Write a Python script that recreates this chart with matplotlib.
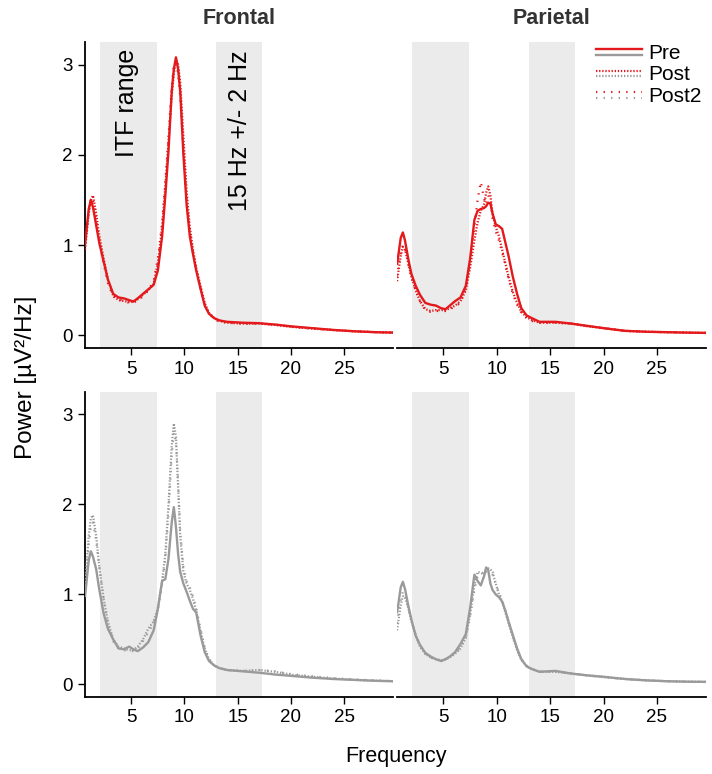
import matplotlib
matplotlib.use("Agg")
import matplotlib.pyplot as plt
from matplotlib.lines import Line2D
from matplotlib.legend_handler import HandlerBase

plt.rcParams['font.family'] = ['Liberation Sans', 'DejaVu Sans']

# ---------------- data ----------------
freq = [0.65, 1.0, 1.2, 1.4, 1.7, 2.0, 2.4, 2.8, 3.3, 3.8, 4.3, 4.8, 5.2, 5.6, 6.1, 6.6,
        7.1, 7.5, 7.9, 8.2, 8.5, 8.8, 9.0, 9.2, 9.4, 9.6, 9.9, 10.2, 10.5, 10.8, 11.1,
        11.5, 11.9, 12.3, 12.8, 13.3, 14, 15.5, 17, 18.5, 20, 22, 24, 26, 28, 29.8]

frontal_pre = [1.00, 1.40, 1.50, 1.42, 1.22, 1.02, 0.82, 0.62, 0.46, 0.42, 0.41, 0.39, 0.375, 0.41, 0.46, 0.51,
               0.56, 0.72, 1.10, 1.55, 2.05, 2.70, 2.95, 3.08, 2.95, 2.70, 2.00, 1.45, 1.10, 0.90, 0.72,
               0.52, 0.33, 0.24, 0.19, 0.165, 0.15, 0.14, 0.135, 0.12, 0.10, 0.08, 0.06, 0.045, 0.035, 0.03]
frontal_post = [0.95, 1.35, 1.50, 1.55, 1.35, 1.10, 0.85, 0.62, 0.44, 0.39, 0.38, 0.37, 0.37, 0.40, 0.45, 0.50,
                0.57, 0.80, 1.20, 1.65, 2.15, 2.65, 2.90, 3.05, 3.00, 2.80, 2.20, 1.60, 1.20, 0.95, 0.75,
                0.55, 0.36, 0.25, 0.19, 0.16, 0.14, 0.13, 0.13, 0.115, 0.095, 0.075, 0.058, 0.045, 0.035, 0.03]
frontal_post2 = [0.98, 1.38, 1.52, 1.50, 1.28, 1.05, 0.80, 0.58, 0.43, 0.40, 0.38, 0.36, 0.36, 0.39, 0.43, 0.50,
                 0.60, 0.85, 1.25, 1.70, 2.20, 2.75, 3.00, 3.02, 2.90, 2.65, 2.05, 1.50, 1.15, 0.92, 0.73,
                 0.53, 0.34, 0.24, 0.18, 0.15, 0.14, 0.13, 0.13, 0.12, 0.095, 0.075, 0.06, 0.045, 0.035, 0.03]

parietal_pre = [0.78, 1.08, 1.14, 1.05, 0.85, 0.68, 0.55, 0.45, 0.36, 0.34, 0.33, 0.30, 0.29, 0.33, 0.38, 0.42,
                0.55, 0.85, 1.28, 1.38, 1.40, 1.41, 1.43, 1.47, 1.46, 1.35, 1.23, 1.21, 1.18, 1.03, 0.88,
                0.65, 0.46, 0.30, 0.22, 0.19, 0.15, 0.15, 0.13, 0.105, 0.08, 0.05, 0.04, 0.035, 0.03, 0.027]
parietal_post = [0.60, 0.88, 0.98, 0.95, 0.80, 0.65, 0.50, 0.38, 0.29, 0.27, 0.28, 0.28, 0.28, 0.30, 0.33, 0.38,
                 0.50, 0.75, 1.05, 1.25, 1.38, 1.45, 1.58, 1.65, 1.55, 1.35, 1.20, 1.10, 0.95, 0.80, 0.65,
                 0.48, 0.36, 0.26, 0.20, 0.17, 0.14, 0.14, 0.13, 0.10, 0.08, 0.05, 0.04, 0.035, 0.03, 0.027]
parietal_post2 = [0.65, 0.92, 1.00, 0.96, 0.80, 0.64, 0.50, 0.38, 0.28, 0.26, 0.27, 0.27, 0.27, 0.29, 0.32, 0.36,
                  0.52, 0.82, 1.20, 1.50, 1.70, 1.52, 1.45, 1.55, 1.50, 1.30, 1.15, 1.05, 0.92, 0.78, 0.63,
                  0.46, 0.34, 0.25, 0.19, 0.16, 0.14, 0.14, 0.13, 0.10, 0.08, 0.05, 0.04, 0.035, 0.03, 0.027]

frontal_pre_b = [0.97, 1.38, 1.48, 1.42, 1.28, 1.05, 0.79, 0.62, 0.50, 0.40, 0.39, 0.42, 0.39, 0.37, 0.41, 0.47,
                 0.60, 0.84, 1.15, 1.17, 1.40, 1.80, 1.97, 1.75, 1.45, 1.25, 1.12, 1.03, 0.93, 0.84, 0.80,
                 0.55, 0.36, 0.26, 0.21, 0.18, 0.16, 0.145, 0.13, 0.11, 0.095, 0.075, 0.06, 0.05, 0.04, 0.035]
frontal_post_b = [1.10, 1.65, 1.85, 1.88, 1.65, 1.30, 0.95, 0.70, 0.50, 0.42, 0.40, 0.38, 0.38, 0.42, 0.50, 0.62,
                  0.70, 0.85, 1.15, 1.45, 2.00, 2.65, 2.90, 2.75, 2.20, 1.65, 1.25, 1.12, 1.05, 0.95, 0.82,
                  0.60, 0.40, 0.28, 0.21, 0.18, 0.16, 0.15, 0.16, 0.14, 0.11, 0.085, 0.065, 0.05, 0.04, 0.035]
frontal_post2_b = [1.05, 1.55, 1.75, 1.80, 1.60, 1.30, 0.95, 0.68, 0.48, 0.40, 0.38, 0.37, 0.37, 0.40, 0.48, 0.58,
                   0.68, 0.83, 1.12, 1.40, 1.90, 2.55, 2.80, 2.70, 2.25, 1.70, 1.30, 1.15, 1.08, 0.98, 0.85,
                   0.62, 0.41, 0.28, 0.21, 0.18, 0.16, 0.15, 0.16, 0.145, 0.115, 0.09, 0.07, 0.055, 0.045, 0.035]

parietal_pre_b = [0.79, 1.08, 1.14, 1.06, 0.88, 0.72, 0.54, 0.44, 0.35, 0.31, 0.28, 0.26, 0.28, 0.31, 0.36, 0.45,
                  0.56, 0.85, 1.22, 1.15, 1.10, 1.20, 1.30, 1.27, 1.12, 1.05, 1.00, 0.97, 0.92, 0.82, 0.70,
                  0.55, 0.40, 0.28, 0.20, 0.17, 0.14, 0.15, 0.12, 0.10, 0.085, 0.06, 0.045, 0.035, 0.03, 0.028]
parietal_post_b = [0.60, 0.88, 0.98, 0.97, 0.85, 0.70, 0.55, 0.42, 0.34, 0.30, 0.28, 0.27, 0.28, 0.30, 0.34, 0.40,
                   0.52, 0.78, 1.10, 1.25, 1.24, 1.22, 1.25, 1.28, 1.28, 1.25, 1.12, 1.00, 0.92, 0.80, 0.68,
                   0.52, 0.38, 0.27, 0.20, 0.17, 0.14, 0.14, 0.12, 0.10, 0.08, 0.06, 0.045, 0.035, 0.03, 0.028]
parietal_post2_b = [0.68, 0.95, 1.03, 1.00, 0.86, 0.70, 0.55, 0.43, 0.34, 0.30, 0.27, 0.27, 0.28, 0.31, 0.35, 0.41,
                    0.53, 0.76, 1.05, 1.20, 1.22, 1.25, 1.28, 1.29, 1.27, 1.22, 1.12, 1.02, 0.94, 0.82, 0.70,
                    0.54, 0.39, 0.28, 0.21, 0.17, 0.145, 0.14, 0.125, 0.10, 0.082, 0.06, 0.045, 0.035, 0.03, 0.028]

conditions = ["Pre", "Post", "Post2"]
regions = ["Frontal", "Parietal"]
itf_band = (2.1, 7.4)
beta_band = (13.0, 17.3)
yticks = [0, 1, 2, 3]
xticks = [5, 10, 15, 20, 25]

RED = "#e3191c"
GRAY = "#9a9a9a"
SHADE = "#ebebeb"
styles = {"Pre": dict(ls="-", lw=1.7),
          "Post": dict(ls=(0, (0.6, 0.8)), lw=1.6),
          "Post2": dict(ls=(0, (0.6, 2.8)), lw=1.6)}

panels = [
    [(RED, [frontal_pre, frontal_post, frontal_post2]), (RED, [parietal_pre, parietal_post, parietal_post2])],
    [(GRAY, [frontal_pre_b, frontal_post_b, frontal_post2_b]), (GRAY, [parietal_pre_b, parietal_post_b, parietal_post2_b])],
]

W, H = 712, 774
fig = plt.figure(figsize=(W / 100, H / 100), dpi=100)

col_x = [(85, 393), (397, 706)]
row_y = [(42, 348), (392, 697)]

axes = [[None, None], [None, None]]
for r in range(2):
    for c in range(2):
        x0, x1 = col_x[c]
        y0, y1 = row_y[r]
        ax = fig.add_axes([x0 / W, 1 - y1 / H, (x1 - x0) / W, (y1 - y0) / H])
        axes[r][c] = ax
        color, series = panels[r][c]
        ax.axvspan(*itf_band, color=SHADE, lw=0, zorder=0)
        ax.axvspan(*beta_band, color=SHADE, lw=0, zorder=0)
        for cond, vals in zip(conditions, series):
            ax.plot(freq, vals, color=color, solid_capstyle="butt", zorder=3, **styles[cond])
        ax.set_xlim(0.65, 29.6)
        ax.set_ylim(-0.14, 3.25)
        ax.set_xticks(xticks)
        ax.set_yticks(yticks)
        for s in ["top", "right"]:
            ax.spines[s].set_visible(False)
        ax.spines["bottom"].set_linewidth(1.3)
        ax.spines["left"].set_linewidth(1.3)
        ax.tick_params(axis="both", labelsize=13.5, length=5, width=1.0, pad=4, colors="black")
        if c == 1:
            ax.spines["left"].set_visible(False)
            ax.tick_params(axis="y", left=False, labelleft=False)

# annotations
axes[0][0].text(4.6, 3.17, "ITF range", rotation=90, ha="center", va="top", fontsize=18)
axes[0][0].text(15.2, 3.16, "15 Hz +/- 2 Hz", rotation=90, ha="center", va="top", fontsize=18)

# titles
fig.text(239 / W, 1 - 18 / H, regions[0], ha="center", va="center", fontsize=15.5,
         fontweight="bold", color="#333333")
fig.text(551 / W, 1 - 18 / H, regions[1], ha="center", va="center", fontsize=15.5,
         fontweight="bold", color="#333333")
fig.text(26 / W, 1 - 377 / H, "Power [µV²/Hz]", rotation=90, ha="center", va="center", fontsize=17.5)
fig.text(396 / W, 1 - 762 / H, "Frequency", ha="center", va="baseline", fontsize=15.5)


# legend with stacked red/gray handles
class StackedHandler(HandlerBase):
    def create_artists(self, legend, orig_handle, xdescent, ydescent, width, height, fontsize, trans):
        arts = []
        for h, frac in zip(orig_handle, (0.66, 0.30)):
            y = height * frac - ydescent
            ln = Line2D([-xdescent, -xdescent + width], [y, y])
            ln.update_from(h)
            ln.set_transform(trans)
            arts.append(ln)
        return arts


handles = []
for cond in conditions:
    st = styles[cond]
    handles.append((Line2D([], [], color=RED, ls=st["ls"], lw=st["lw"]),
                    Line2D([], [], color=GRAY, ls=st["ls"], lw=st["lw"])))

axes[0][1].legend(handles, conditions, handler_map={tuple: StackedHandler()},
                  loc="upper left", bbox_to_anchor=(596 / W, 1 - 44 / H),
                  bbox_transform=fig.transFigure, frameon=False, fontsize=15,
                  handlelength=2.2, handletextpad=0.3, labelspacing=0.12,
                  borderpad=0, borderaxespad=0)

fig.savefig("out.png", dpi=100)
